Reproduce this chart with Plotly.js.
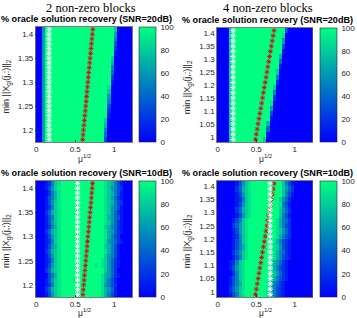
<!DOCTYPE html>
<html><head><meta charset="utf-8">
<script src="https://cdn.plot.ly/plotly-3.0.1.min.js"></script>
<style>html,body{margin:0;padding:0;background:#fff}#chart{width:357px;height:318px}</style>
</head><body><div id="chart"></div>
<script>
// ---- data ----
const xCells = [0.01,0.05,0.09,0.13,0.17,0.21,0.25,0.29,0.33,0.37,0.41,0.45,0.49,0.53,0.57,0.61,0.65,0.69,0.73,0.77,0.81,0.85,0.89,0.93,0.97,1.01,1.05,1.09,1.13,1.17,1.21];
const yCells2 = [1.18,1.19,1.20,1.21,1.22,1.23,1.24,1.25,1.26,1.27,1.28,1.29,1.30,1.31,1.32,1.33,1.34,1.35,1.36,1.37,1.38,1.39,1.40,1.41];
const yCells4 = [0.99,1.01,1.03,1.05,1.07,1.09,1.11,1.13,1.15,1.17,1.19,1.21,1.23,1.25,1.27,1.29,1.31,1.33,1.35,1.37,1.39,1.41];

// recovery % per cell, one string per row (bottom row first); '0'-'9' = 0..90 %, 'a' = 100 %
const zTL = [
"006 aaaaa aaaaa aaaaa aaaa 3 00000 000",
"006 aaaaa aaaaa aaaaa aaaa 4 00000 000",
"006 aaaaa aaaaa aaaaa aaaa 5 00000 000",
"006 aaaaa aaaaa aaaaa aaaa 7 00000 000",
"006 aaaaa aaaaa aaaaa aaaa 8 00000 000",
"006 aaaaa aaaaa aaaaa aaaaa 1 00000 00",
"006 aaaaa aaaaa aaaaa aaaaa 2 00000 00",
"006 aaaaa aaaaa aaaaa aaaaa 3 00000 00",
"006 aaaaa aaaaa aaaaa aaaaa 5 00000 00",
"006 aaaaa aaaaa aaaaa aaaaa 6 00000 00",
"006 aaaaa aaaaa aaaaa aaaaa 8 00000 00",
"006 aaaaa aaaaa aaaaa aaaaa 9 00000 00",
"006 aaaaa aaaaa aaaaa aaaaa a 1 00000 0",
"006 aaaaa aaaaa aaaaa aaaaa a 2 00000 0",
"006 aaaaa aaaaa aaaaa aaaaa a 4 00000 0",
"006 aaaaa aaaaa aaaaa aaaaa a 5 00000 0",
"006 aaaaa aaaaa aaaaa aaaaa a 7 00000 0",
"006 aaaaa aaaaa aaaaa aaaaa a 8 00000 0",
"006 aaaaa aaaaa aaaaa aaaaa aa 1 00000",
"006 aaaaa aaaaa aaaaa aaaaa aa 2 00000",
"006 aaaaa aaaaa aaaaa aaaaa aa 3 00000",
"006 aaaaa aaaaa aaaaa aaaaa aa 5 00000",
"006 aaaaa aaaaa aaaaa aaaaa aa 6 00000",
"006 aaaaa aaaaa aaaaa aaaaa aa 8 00000"];

const zTR = [
"00008 aaaaa aaaaa 8 00000 00000 00000",
"00008 aaaaa aaaaa a 1 00000 00000 0000",
"00008 aaaaa aaaaa a 4 00000 00000 0000",
"00008 aaaaa aaaaa a 7 00000 00000 0000",
"00008 aaaaa aaaaa aa 1 00000 00000 000",
"00008 aaaaa aaaaa aa 3 00000 00000 000",
"00008 aaaaa aaaaa aa 6 00000 00000 000",
"00008 aaaaa aaaaa aa 9 00000 00000 000",
"00008 aaaaa aaaaa aaa 2 00000 00000 00",
"00008 aaaaa aaaaa aaa 5 00000 00000 00",
"00008 aaaaa aaaaa aaa 8 00000 00000 00",
"00008 aaaaa aaaaa aaaa 2 00000 00000 0",
"00008 aaaaa aaaaa aaaa 5 00000 00000 0",
"00008 aaaaa aaaaa aaaa 8 00000 00000 0",
"00008 aaaaa aaaaa aaaaa 1 00000 00000",
"00008 aaaaa aaaaa aaaaa 4 00000 00000",
"00008 aaaaa aaaaa aaaaa 7 00000 00000",
"00008 aaaaa aaaaa aaaaa a 1 00000 0000",
"00008 aaaaa aaaaa aaaaa a 3 00000 0000",
"00008 aaaaa aaaaa aaaaa a 6 00000 0000",
"00008 aaaaa aaaaa aaaaa a 9 00000 0000",
"00008 aaaaa aaaaa aaaaa aa 3 00000 000"];

const zBL = [
"00013689 aaaaa aaaaa aaa 97531 00000",
"00024789 aaaaa aaaaa aaa 97641 00000",
"00012589 aaaaa aaaaa aaa 96532 00000",
"00013689 aaaa9 aaaaa aaa 97531 00000",
"00003579 aaaaa aaaaa aaa 97642 10000",
"00024789 aaaaa aaaaa aaa a8642 00000",
"00013689 aaaaa aaaaa a9a 98642 10000",
"00012589 aaaaa aaaaa aaa 98642 10000",
"00013689 aaaaa aaaaa aaa a8653 10000",
"00024789 aaaaa aaaaa aaa a9753 10000",
"00013679 aaaaa aaaaa aaa a8753 10000",
"00012589 aaaaa aaaaa aaa a9654 21000",
"00013689 aaaaa aaaaa aaa a9753 20000",
"00024789 aaaaa aaaaa aaa a9764 21000",
"00012579 aaaaa aaaaa aaa a8754 21000",
"00013689 aaaaa aaaaa aaa a9864 21000",
"00013589 aaaaa aaaaa aaa a9764 31000",
"00024789 aaaaa aaaaa aaa a9864 21000",
"00012589 aaaaa aaaaa aaa a9865 31000",
"00013689 aaaaa aaaaa aaa a9875 32000",
"00013579 aaaaa aaaaa aaa a9864 21000",
"00002579 aaaaa aaaaa aaa a9875 31000",
"00013689 aaaaa aaaaa aaa a9865 32000",
"00012589 aaaaa aaaaa aaa a9875 31000"];

const zBR = [
"000013589aa aaaaa 975321 00000 0000",
"000024689aa aaaaa 965321 00000 0000",
"000013579aa aaaaa 975421 00000 0000",
"000013589aa aaaaa a 975321 00000 000",
"000002589aa aaaaa a 986421 00000 000",
"000013689aa aaaaa a 975321 00000 000",
"000012589aa aaaaa a 976421 00000 000",
"0000013589a aaaaa aa 975321 00000 00",
"0000024689a aaaaa aa 975421 00000 00",
"0000013579a aaaaa aa 986321 00000 00",
"0000013589a aaaaa aa 975321 00000 00",
"0000012589a aaaaa aaa 97532 00000 00",
"0000013689a aaaaa aaa 98642 00000 00",
"0000024689a aaaaa aaa 97532 00000 00",
"0000013589a aaaaa aaa 97542 00000 00",
"00000013689 aaaaa aaaa 8531 00000 00",
"00000024789 aaaaa aaaa 8642 00000 00",
"00000013689 aaaaa aaaa 9531 00000 00",
"00000012589 aaaaa aaaa 8642 00000 00",
"00000013689 aaaaa aaaaa 8531 00000 0",
"00000024789 aaaaa aaaaa 8642 00000 0",
"00000013689 aaaaa aaaaa 8531 00000 0"];

// markers: white = empirical best mu^(1/2), red = predicted mu^(1/2)
const whiteTL = [0.165,0.165,0.165,0.165,0.165,0.165,0.165,0.165,0.165,0.165,0.165,0.165,0.165,0.165,0.165,0.165,0.165,0.165,0.165,0.165,0.165,0.165,0.165,0.165];
const redTL = [0.595,0.601,0.606,0.612,0.618,0.623,0.629,0.635,0.640,0.646,0.651,0.657,0.663,0.668,0.674,0.680,0.685,0.691,0.697,0.702,0.708,0.714,0.719,0.725];
const whiteTR = [0.2,0.2,0.2,0.2,0.2,0.2,0.2,0.2,0.2,0.2,0.2,0.2,0.2,0.2,0.2,0.2,0.2,0.2,0.2,0.2,0.2,0.2];
const redTR = [0.490,0.501,0.513,0.524,0.536,0.547,0.559,0.570,0.581,0.593,0.604,0.616,0.627,0.639,0.650,0.661,0.673,0.684,0.696,0.707,0.719,0.730];
const whiteBL = [0.53,0.53,0.53,0.53,0.53,0.53,0.53,0.53,0.53,0.53,0.53,0.53,0.53,0.53,0.53,0.53,0.53,0.53,0.53,0.53,0.53,0.53,0.53,0.53];
const redBL = [0.598,0.603,0.608,0.614,0.619,0.625,0.630,0.636,0.641,0.647,0.652,0.658,0.663,0.669,0.674,0.680,0.685,0.691,0.696,0.702,0.707,0.712,0.717,0.722];
const whiteBR = [0.68,0.68,0.68,0.68,0.68,0.68,0.68,0.68,0.68,0.68,0.68,0.68,0.68,0.68,0.68,0.68,0.68,0.68,0.68,0.68,0.68,0.68];
const redBR = [0.490,0.501,0.513,0.524,0.536,0.547,0.559,0.570,0.581,0.593,0.604,0.616,0.627,0.639,0.650,0.661,0.673,0.684,0.696,0.707,0.719,0.730];

const ticks2 = [1.2,1.25,1.3,1.35,1.4];
const ticks4 = [1,1.05,1.1,1.15,1.2,1.25,1.3,1.35,1.4];
const xTicks = [0,0.5,1];
const cbTicks = [0,20,40,60,80,100];
const mainTitles = ['2 non-zero blocks','4 non-zero blocks'];
const subTitles = ['% oracle solution recovery (SNR=20dB)','% oracle solution recovery (SNR=20dB)','% oracle solution recovery (SNR=10dB)','% oracle solution recovery (SNR=10dB)'];
const yLabel = 'min ||X<sub>gi</sub>(j,:)||<sub>2</sub>';
const xLabel = '\u03bc<sup>1/2</sup>';

// ---- build ----
function decode(rows){
  return rows.map(r=>{
    const s=r.replace(/\s+/g,'');
    const out=[];
    for(let i=0;i<xCells.length;i++){
      const c=s[i]||'0';
      out.push(c==='a'?100:Number(c)*10);
    }
    return out;
  });
}
const W=357,H=318;
const px=v=>v/W, py=v=>1-v/H;
const TXT='#262626';
const SANS='Liberation Sans, Arial, Helvetica, sans-serif';
const winter=[[0,'rgb(0,0,255)'],[1,'rgb(0,255,128)']];
const RED='rgb(200,25,25)';

const panels=[
 {z:zTL,y:yCells2,w:whiteTL,r:redTL,xa:'x', ya:'y', L:36,R:134,T:27,B:142,cb:141,xl:158},
 {z:zTR,y:yCells4,w:whiteTR,r:redTR,xa:'x2',ya:'y2',L:220,R:317,T:28,B:142,cb:325,xl:158},
 {z:zBL,y:yCells2,w:whiteBL,r:redBL,xa:'x3',ya:'y3',L:36,R:134,T:181,B:297,cb:141,xl:312},
 {z:zBR,y:yCells4,w:whiteBR,r:redBR,xa:'x4',ya:'y4',L:220,R:317,T:181,B:297,cb:325,xl:312}
];
const traces=[];
const layout={width:W,height:H,margin:{l:0,r:0,t:0,b:0},paper_bgcolor:'#fff',plot_bgcolor:'#fff',showlegend:false,annotations:[],font:{family:SANS,color:TXT}};
panels.forEach((p,i)=>{
  traces.push({type:'heatmap',x:xCells,y:p.y,z:decode(p.z),xaxis:p.xa,yaxis:p.ya,zmin:0,zmax:100,colorscale:winter,zsmooth:false,hoverinfo:'skip',
    colorbar:{x:px(p.cb),xanchor:'left',xpad:0,ypad:0,y:py(p.B),yanchor:'bottom',len:(p.B-p.T)/H,lenmode:'fraction',thickness:17,thicknessmode:'pixels',
      outlinewidth:0.6,outlinecolor:TXT,tickvals:cbTicks,ticks:'outside',ticklen:3,tickcolor:'rgba(0,0,0,0)',tickfont:{family:SANS,size:8,color:TXT}}});
  traces.push({type:'scatter',mode:'markers',x:p.r,y:p.y,xaxis:p.xa,yaxis:p.ya,hoverinfo:'skip',
    marker:{symbol:'asterisk-open',size:4,color:RED,line:{color:RED,width:1}}});
  traces.push({type:'scatter',mode:'markers',x:p.w,y:p.y,xaxis:p.xa,yaxis:p.ya,hoverinfo:'skip',
    marker:{symbol:'asterisk-open',size:4.5,color:'#ffffff',line:{color:'#ffffff',width:1}}});
  const n=i===0?'':String(i+1);
  const yr=p.y===yCells2?[1.175,1.415]:[0.98,1.42];
  layout['xaxis'+n]={domain:[px(p.L),px(p.R)],range:[-0.01,1.23],anchor:p.ya,tickvals:xTicks,ticks:'inside',ticklen:2,tickcolor:TXT,
    tickfont:{family:SANS,size:8,color:TXT},showline:true,linecolor:TXT,linewidth:0.6,mirror:true,showgrid:false,zeroline:false,fixedrange:true};
  layout['yaxis'+n]={domain:[py(p.B),py(p.T)],range:yr,anchor:p.xa,tickvals:p.y===yCells2?ticks2:ticks4,ticks:'inside',ticklen:2,tickcolor:TXT,
    tickfont:{family:SANS,size:8,color:TXT},showline:true,linecolor:TXT,linewidth:0.6,mirror:true,showgrid:false,zeroline:false,fixedrange:true};
  const cx=(p.L+p.R)/2;
  layout.annotations.push({text:'<b>'+subTitles[i]+'</b>',x:px(cx+3),y:py(p.T-8),xref:'paper',yref:'paper',xanchor:'center',yanchor:'middle',showarrow:false,font:{family:SANS,size:9.1,color:'#000'}});
  layout.annotations.push({text:yLabel,x:px(p.L-29),y:py((p.T+p.B)/2+2),xref:'paper',yref:'paper',xanchor:'center',yanchor:'middle',textangle:-90,showarrow:false,font:{family:SANS,size:9,color:TXT}});
  layout.annotations.push({text:xLabel,x:px(cx+1),y:py(p.xl),xref:'paper',yref:'paper',xanchor:'center',yanchor:'middle',showarrow:false,font:{family:SANS,size:8.5,color:TXT}});
});
layout.annotations.push({text:mainTitles[0],x:px(92),y:py(8),xref:'paper',yref:'paper',xanchor:'center',yanchor:'middle',showarrow:false,font:{family:'Liberation Serif, Times New Roman, serif',size:12.5,color:'#000'}});
layout.annotations.push({text:mainTitles[1],x:px(272),y:py(8),xref:'paper',yref:'paper',xanchor:'center',yanchor:'middle',showarrow:false,font:{family:'Liberation Serif, Times New Roman, serif',size:12.5,color:'#000'}});
Plotly.newPlot('chart',traces,layout,{staticPlot:true,displayModeBar:false});
</script>
</body></html>
